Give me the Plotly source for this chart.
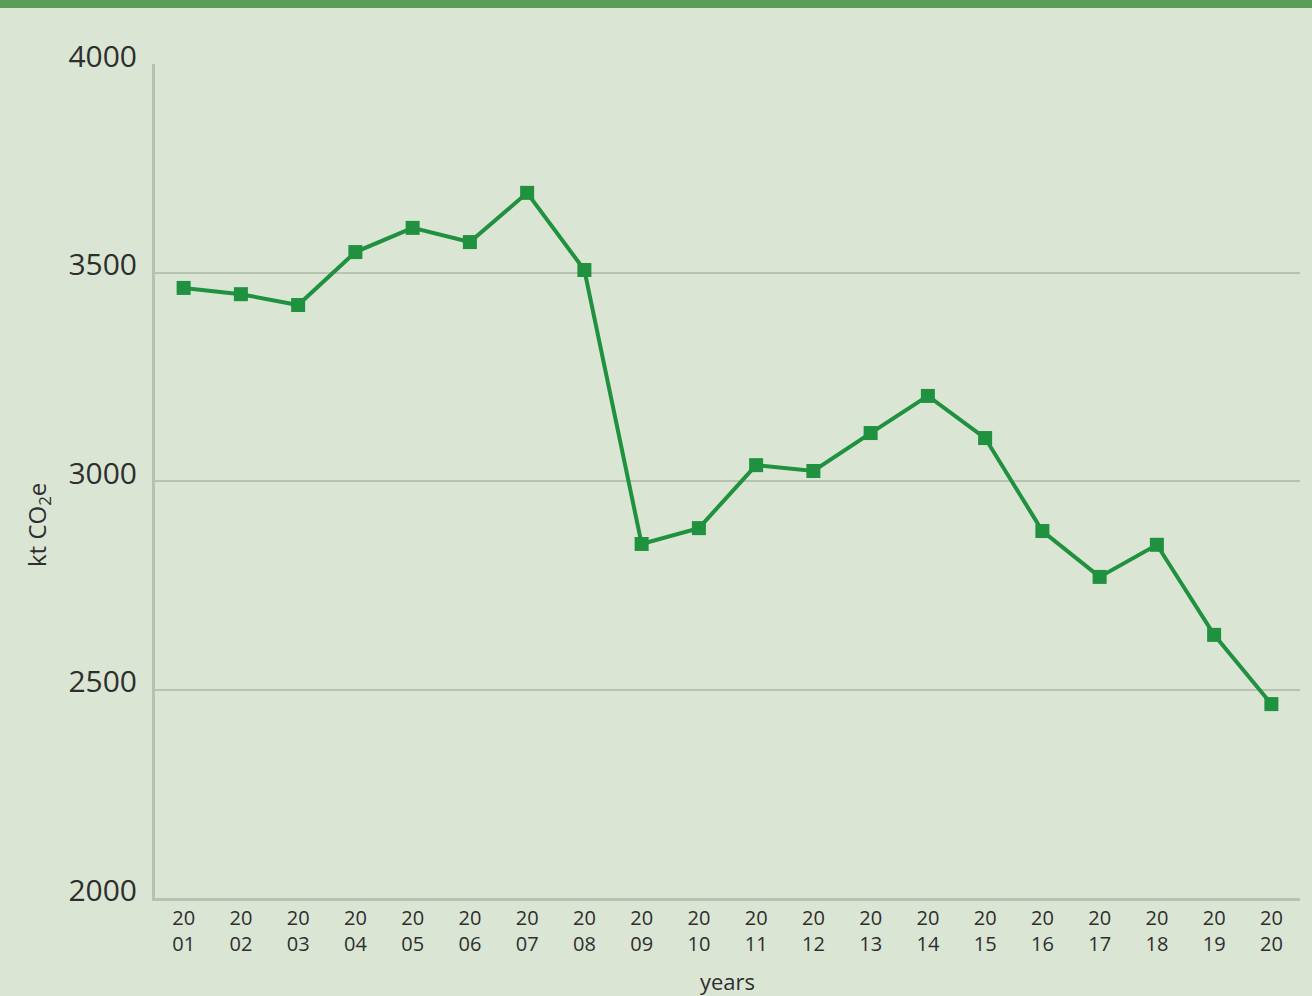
import plotly.graph_objects as go

years = ["20<br>%02d" % i for i in range(1, 21)]
values = [3463, 3448, 3422, 3549, 3607, 3573, 3691, 3506, 2849, 2887,
          3038, 3024, 3115, 3204, 3103, 2880, 2770, 2847, 2631, 2465]
y_ticks = [2000, 2500, 3000, 3500, 4000]

BG = "#dbe5d4"
LINE = "#1f913f"
GRID = "#b7c2b0"
TXT = "#2e2e2e"

fig = go.Figure()
fig.add_trace(go.Scatter(
    x=years, y=values, mode="lines+markers",
    line=dict(color=LINE, width=4),
    marker=dict(symbol="square", size=14, color=LINE),
    showlegend=False, hoverinfo="skip"))

fig.update_layout(
    width=1312, height=996,
    margin=dict(l=155, r=12, t=64, b=98),
    paper_bgcolor=BG, plot_bgcolor=BG,
    font=dict(family="Open Sans, Liberation Sans, sans-serif", color=TXT),
    xaxis=dict(
        type="category", range=[-0.5, 19.5], automargin=False,
        showgrid=False, showline=True, linecolor=GRID, linewidth=3,
        ticks="", tickfont=dict(size=20), ticklabelstandoff=0,
        title=dict(text="years", font=dict(size=22), standoff=20),
    ),
    yaxis=dict(
        range=[2000, 4000], tickvals=y_ticks, automargin=False,
        showgrid=True, gridcolor=GRID, gridwidth=1.5,
        showline=True, linecolor=GRID, linewidth=3,
        zeroline=False, ticks="", tickfont=dict(size=30),
        ticklabelstandoff=9, ticklabelshift=-8,
    ),
    annotations=[dict(text="kt CO<sub>2</sub>e", textangle=-90,
                      xref="paper", yref="paper",
                      x=(38 - 155) / 1145, y=(898 - 525) / 834,
                      xanchor="center", yanchor="middle",
                      showarrow=False, font=dict(size=24, color=TXT))],
    shapes=[dict(type="rect", xref="paper", yref="paper",
                 x0=-0.2, x1=1.1, y0=(898 - 8) / 834, y1=1.1,
                 fillcolor="#5a9c5a", line=dict(width=0), layer="above")],
)

fig.write_html("out.html", config={"displayModeBar": False},
               post_script="document.body.style.margin='0';"
                           "document.body.style.background='#dbe5d4';")
